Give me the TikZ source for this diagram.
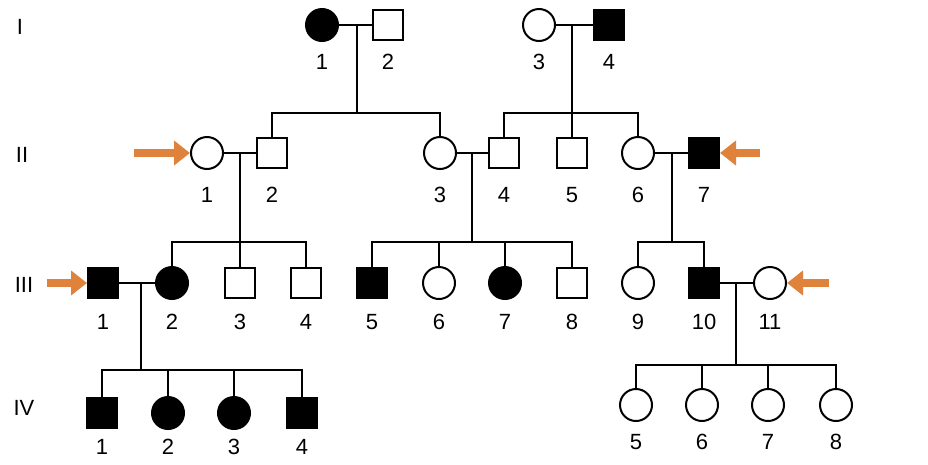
\documentclass[tikz,border=0pt]{standalone}
\usepackage{fontspec}
\setmainfont{Liberation Sans}
\usetikzlibrary{arrows.meta}
\definecolor{probandorange}{RGB}{222,130,60}
\tikzset{
  female/.style={circle,draw,line width=2pt,minimum size=32pt,inner sep=0pt},
  male/.style={rectangle,draw,line width=2pt,minimum size=30pt,inner sep=0pt},
  aff/.style={fill=black},
  num/.style={font=\fontsize{22}{24}\selectfont},
  line/.style={line width=2pt},
  proband/.style={probandorange,line width=8pt,-{Triangle[length=16pt,width=24pt]}}
}
\begin{document}
\begin{tikzpicture}[x=1pt,y=-1pt]
\useasboundingbox (0,0) rectangle (928,464);
% generation labels
\node[num] at (20,27) {I};
\node[num] at (22,155) {II};
\node[num] at (24,285) {III};
\node[num] at (24,408) {IV};
% generation I
\node[female,aff] (i1) at (322,25) {};
\node[male] (i2) at (388,25) {};
\node[female] (i3) at (539,25) {};
\node[male,aff] (i4) at (609,25) {};
% generation II
\node[female] (ii1) at (207,153) {};
\node[male] (ii2) at (272,153) {};
\node[female] (ii3) at (440,153) {};
\node[male] (ii4) at (504,153) {};
\node[male] (ii5) at (572,153) {};
\node[female] (ii6) at (638,153) {};
\node[male,aff] (ii7) at (704,153) {};
% generation III
\node[male,aff] (iii1) at (103,283) {};
\node[female,aff] (iii2) at (172,283) {};
\node[male] (iii3) at (240,283) {};
\node[male] (iii4) at (306,283) {};
\node[male,aff] (iii5) at (372,283) {};
\node[female] (iii6) at (439,283) {};
\node[female,aff] (iii7) at (505,283) {};
\node[male] (iii8) at (572,283) {};
\node[female] (iii9) at (638,283) {};
\node[male,aff] (iii10) at (704,283) {};
\node[female] (iii11) at (770,283) {};
% generation IV
\node[male,aff] (iv1) at (102,413) {};
\node[female,aff] (iv2) at (168,413) {};
\node[female,aff] (iv3) at (234,413) {};
\node[male,aff] (iv4) at (302,413) {};
\node[female] (iv5) at (636,405) {};
\node[female] (iv6) at (702,405) {};
\node[female] (iv7) at (768,405) {};
\node[female] (iv8) at (836,405) {};
% numbers
\foreach \n/\t in {i1/1,i2/2,i3/3,i4/4}
  \node[num] at ([yshift=-37pt]\n) {\t};
\foreach \n/\t in {ii1/1,ii2/2,ii3/3,ii4/4,ii5/5,ii6/6,ii7/7}
  \node[num] at ([yshift=-42pt]\n) {\t};
\foreach \n/\t in {iii1/1,iii2/2,iii3/3,iii4/4,iii5/5,iii6/6,iii7/7,iii8/8,iii9/9,iii10/10,iii11/11}
  \node[num] at ([yshift=-39pt]\n) {\t};
\foreach \n/\t in {iv1/1,iv2/2,iv3/3,iv4/4}
  \node[num] at ([yshift=-34pt]\n) {\t};
\foreach \n/\t in {iv5/5,iv6/6,iv7/7,iv8/8}
  \node[num] at ([yshift=-37pt]\n) {\t};
% matings and descent
\coordinate (m1) at (357,25);
\coordinate (m2) at (572,25);
\coordinate (m3) at (240,153);
\coordinate (m4) at (472,153);
\coordinate (m5) at (672,153);
\coordinate (m6) at (141,283);
\coordinate (m7) at (736,283);
\draw[line] (i1) -- (i2) (i3) -- (i4);
\draw[line] (ii1) -- (ii2) (ii3) -- (ii4) (ii6) -- (ii7);
\draw[line] (iii1) -- (iii2) (iii10) -- (iii11);
\draw[line] (m1) -- (357,113);
\draw[line] (ii2.north) |- (357,113) -| (ii3.north);
\draw[line] (m2) -- (ii5.north);
\draw[line] (ii4.north) |- (572,113) -| (ii6.north);
\draw[line] (m3) -- (240,242);
\draw[line] (iii2.north) |- (iii3 |- 0,242) -- (iii3.north);
\draw[line] (iii3 |- 0,242) -| (iii4.north);
\draw[line] (m4) -- (472,242);
\draw[line] (iii5.north) |- (472,242) -| (iii8.north);
\draw[line] (iii6.north) -- (iii6 |- 0,242) (iii7.north) -- (iii7 |- 0,242);
\draw[line] (m5) -- (672,242);
\draw[line] (iii9.north) |- (672,242) -| (iii10.north);
\draw[line] (m6) -- (141,370);
\draw[line] (iv1.north) |- (141,370) -| (iv4.north);
\draw[line] (iv2.north) -- (iv2 |- 0,370) (iv3.north) -- (iv3 |- 0,370);
\draw[line] (m7) -- (736,365);
\draw[line] (iv5.north) |- (736,365) -| (iv8.north);
\draw[line] (iv6.north) -- (iv6 |- 0,365) (iv7.north) -- (iv7 |- 0,365);
% probands
\draw[proband] ([xshift=-56pt]ii1.west) -- (ii1.west);
\draw[proband] ([xshift=40pt]ii7.east) -- (ii7.east);
\draw[proband] ([xshift=-40pt]iii1.west) -- (iii1.west);
\draw[proband] ([xshift=42pt]iii11.east) -- (iii11.east);
\end{tikzpicture}
\end{document}
